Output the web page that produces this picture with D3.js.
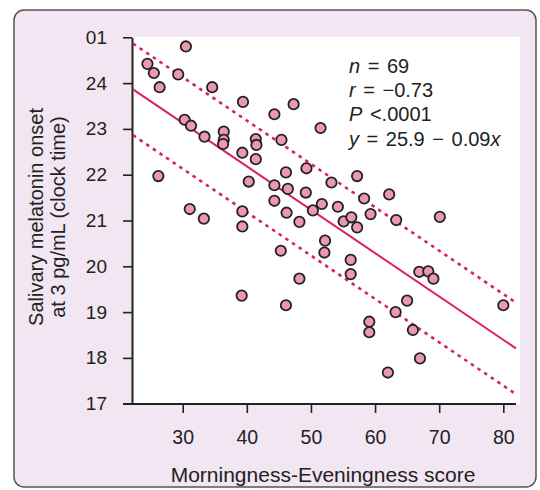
<!DOCTYPE html>
<html>
<head>
<meta charset="utf-8">
<script src="https://cdn.jsdelivr.net/npm/d3@7"></script>
<style>
  body { margin: 0; background: #fff; }
  svg text { font-family: "Liberation Sans", Arial, sans-serif; fill: #222; }
</style>
</head>
<body>
<div id="chart"></div>
<script>
// Morningness-Eveningness score per subject
var meScore = [24.5, 25.5, 26.4, 30.5, 29.3, 34.6, 26.2, 30.3, 31.3, 33.4,
               31.1, 33.3, 36.4, 36.4, 36.3, 39.4, 39.3, 40.3, 39.3, 39.3,
               39.2, 41.4, 41.5, 41.4, 44.3, 47.3, 45.4, 46.1, 44.3, 46.4,
               44.3, 46.2, 49.3, 49.2, 48.2, 50.3, 51.5, 51.7, 53.2, 54.2,
               55.1, 56.3, 57.2, 57.2, 58.3, 59.3, 52.2, 52.1, 45.3, 48.2,
               46.1, 56.2, 56.2, 62.2, 63.3, 70.1, 66.9, 68.3, 69.1, 65.0,
               63.2, 59.1, 59.1, 65.9, 67.0, 62.0, 80.0];
// melatonin onset, clock hours (25 = 01:00)
var onset = [24.42, 24.22, 23.91, 24.80, 24.19, 23.91, 21.97, 23.20, 23.07, 22.83,
             21.25, 21.04, 22.94, 22.76, 22.67, 23.59, 22.48, 21.85, 21.20, 20.87,
             19.36, 22.78, 22.65, 22.34, 23.32, 23.54, 22.76, 22.05, 21.77, 21.69,
             21.43, 21.17, 22.14, 21.61, 20.97, 21.22, 23.02, 21.36, 21.83, 21.30,
             20.98, 21.07, 20.85, 21.97, 21.48, 21.14, 20.56, 20.30, 20.34, 19.73,
             19.15, 20.14, 19.83, 21.57, 21.01, 21.08, 19.88, 19.89, 19.73, 19.25,
             19.00, 18.79, 18.56, 18.61, 17.99, 17.68, 19.15];

var xTicks = [30, 40, 50, 60, 70, 80];
var yTicks = [17, 18, 19, 20, 21, 22, 23, 24, 25];
var yTickLabels = ["17", "18", "19", "20", "21", "22", "23", "24", "01"];

// fitted line as drawn, and the +/- band
var fitIntercept = 25.97, fitSlope = -0.0947, bandWidth = 1.0;

var stats = [
  [["n", true], [" = 69", false]],
  [["r", true], [" = \u22120.73", false]],
  [["P", true], [" <.0001", false]],
  [["y", true], [" = 25.9 \u2212 0.09", false], ["x", true]]
];

var width = 540, height = 490;
var plotLeft = 132, plotRight = 520, plotTop = 37, plotBottom = 404;

var svg = d3.select("#chart").append("svg")
    .attr("width", width)
    .attr("height", height);

/* frame */
svg.append("rect")
    .attr("x", 14).attr("y", 10)
    .attr("width", 522).attr("height", 477)
    .attr("rx", 10)
    .attr("fill", "#f1e6f1")
    .attr("stroke", "#555")
    .attr("stroke-width", 1.5);

svg.append("rect")
    .attr("x", plotLeft).attr("y", plotTop)
    .attr("width", plotRight - plotLeft).attr("height", plotBottom - plotTop)
    .attr("fill", "#fff");

var x = d3.scaleLinear().domain([30, 80]).range([182.7, 503.3]);
var y = d3.scaleLinear().domain([17, 25]).range([403.7, 37.3]);

/* axes */
var yAxis = svg.append("g")
    .attr("transform", "translate(" + plotLeft + ",0)")
    .call(d3.axisLeft(y).tickValues(yTicks).tickSize(9).tickSizeOuter(0)
        .tickFormat(function(d, i) { return yTickLabels[i]; }));
yAxis.selectAll("text").attr("x", -25).attr("font-size", 19);

var xAxis = svg.append("g")
    .attr("transform", "translate(0," + plotBottom + ")")
    .call(d3.axisBottom(x).tickValues(xTicks).tickSize(9).tickSizeOuter(0));
xAxis.select(".domain").remove();
xAxis.selectAll("text").attr("y", 26).attr("font-size", 19.5);

svg.selectAll(".tick line").attr("stroke", "#222").attr("stroke-width", 1.6);
svg.selectAll(".domain").attr("stroke", "#222").attr("stroke-width", 2);
svg.selectAll(".tick text").attr("fill", "#222");

svg.append("line")
    .attr("x1", plotLeft - 9).attr("x2", plotRight - 4)
    .attr("y1", plotBottom).attr("y2", plotBottom)
    .attr("stroke", "#222").attr("stroke-width", 2);

/* regression and band */
var xs = [x.invert(plotLeft + 1), x.invert(plotRight - 4)];
[0, 1, -1].forEach(function(k) {
    svg.append("line")
        .attr("x1", x(xs[0])).attr("y1", y(fitIntercept + fitSlope * xs[0] + k * bandWidth))
        .attr("x2", x(xs[1])).attr("y2", y(fitIntercept + fitSlope * xs[1] + k * bandWidth))
        .attr("stroke", "#d8225a")
        .attr("stroke-width", k === 0 ? 2 : 2.6)
        .attr("stroke-dasharray", k === 0 ? null : "3.5,4.5");
});

/* points */
svg.append("g")
    .selectAll("circle")
    .data(meScore)
    .enter().append("circle")
        .attr("cx", function(d) { return x(d); })
        .attr("cy", function(d, i) { return y(onset[i]); })
        .attr("r", 5.2)
        .attr("fill", "#ec97b3")
        .attr("stroke", "#222")
        .attr("stroke-width", 1.8);

/* stats */
var st = svg.append("text").attr("font-size", 20).attr("word-spacing", 2);
stats.forEach(function(line, i) {
    line.forEach(function(part, j) {
        var t = st.append("tspan").text(part[0])
            .attr("font-style", part[1] ? "italic" : "normal");
        if (j === 0) t.attr("x", 349).attr("y", 73 + i * 24.2);
    });
});

/* axis titles */
svg.append("text")
    .attr("x", 323).attr("y", 482)
    .attr("text-anchor", "middle")
    .attr("font-size", 21)
    .text("Morningness-Eveningness score");

var yl = svg.append("text")
    .attr("transform", "translate(0,217) rotate(-90)")
    .attr("text-anchor", "middle")
    .attr("font-size", 20);
yl.append("tspan").attr("x", 0).attr("y", 43).text("Salivary melatonin onset");
yl.append("tspan").attr("x", 0).attr("y", 65).text("at 3 pg/mL (clock time)");
</script>
</body>
</html>
